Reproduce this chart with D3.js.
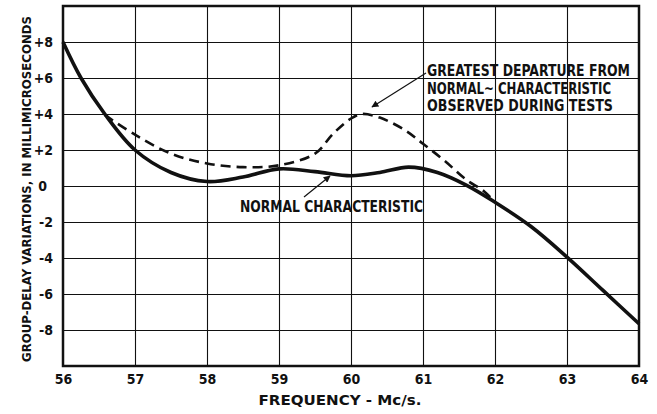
<!DOCTYPE html>
<html>
<head>
<meta charset="utf-8">
<script src="https://cdn.jsdelivr.net/npm/d3@7"></script>
<style>
  html, body { margin: 0; padding: 0; background: #fff; }
  svg { display: block; }
  text { font-family: "DejaVu Sans Condensed", "DejaVu Sans", sans-serif; font-weight: bold; fill: #111; }
</style>
</head>
<body>
<svg id="chart" width="657" height="414"></svg>
<script>
// Frequency axis (Mc/s) and delay axis (millimicroseconds)
const freqTicks = [56, 57, 58, 59, 60, 61, 62, 63, 64];
const delayTicks = [-8, -6, -4, -2, 0, 2, 4, 6, 8];
const delayTickLabels = ["-8", "-6", "-4", "-2", "0", "+2", "+4", "+6", "+8"];

// Normal group-delay characteristic
const normalFreq  = [56.0, 56.25, 56.58, 57.0, 57.5, 58.0, 58.5, 59.0, 59.5, 60.0, 60.4, 60.8, 61.2, 61.6, 62.0, 62.5, 63.0, 63.5, 64.0];
const normalDelay = [8.0,  6.0,   4.0,   2.0,  0.75, 0.25, 0.5,  0.95, 0.8,  0.57, 0.75, 1.05, 0.75, 0.05, -0.9, -2.25, -3.95, -5.8, -7.65];

// Greatest departure observed during tests
const departFreq  = [56.58, 57.0, 57.5, 58.0, 58.5, 59.0, 59.5, 59.75, 60.0, 60.15, 60.4, 60.75, 61.0, 61.3, 61.6, 61.85, 62.0];
const departDelay = [3.95,  2.85, 1.8,  1.25, 1.05, 1.15, 1.8,  2.9,   3.75, 4.0,   3.8,  3.1,   2.35, 1.4,  0.35, -0.3,  -0.9];

const svg = d3.select("#chart");
const x = d3.scaleLinear().domain([56, 64]).range([63, 639]);
const y = d3.scaleLinear().domain([-10, 10]).range([366, 6]);

// arrowhead marker
svg.append("defs").append("marker")
  .attr("id", "arrow")
  .attr("viewBox", "0 0 10 10")
  .attr("refX", 9).attr("refY", 5)
  .attr("markerWidth", 9).attr("markerHeight", 7)
  .attr("markerUnits", "userSpaceOnUse")
  .attr("orient", "auto")
  .append("path").attr("d", "M0,0 L10,5 L0,10 Z").attr("fill", "#111");

// grid
const grid = svg.append("g");
grid.append("g")
  .attr("transform", `translate(0,${y(-10)})`)
  .call(d3.axisBottom(x).tickValues(freqTicks.slice(1, -1)).tickSize(-(y(-10) - y(10))).tickFormat(""))
  .call(g => g.select(".domain").remove())
  .call(g => g.selectAll("line").attr("stroke", "#111").attr("stroke-width", 1.1));
grid.append("g")
  .attr("transform", `translate(${x(56)},0)`)
  .call(d3.axisLeft(y).tickValues(delayTicks).tickSize(-(x(64) - x(56))).tickFormat(""))
  .call(g => g.select(".domain").remove())
  .call(g => g.selectAll("line").attr("stroke", "#111").attr("stroke-width", 1.1));

// frame
svg.append("rect")
  .attr("x", x(56)).attr("y", y(10))
  .attr("width", x(64) - x(56)).attr("height", y(-10) - y(10))
  .attr("fill", "none").attr("stroke", "#111").attr("stroke-width", 2.5);

// tick labels
svg.append("g")
  .attr("transform", `translate(0,${y(-10)})`)
  .call(d3.axisBottom(x).tickValues(freqTicks).tickSize(0).tickPadding(8).tickFormat(d3.format("d")))
  .call(g => g.select(".domain").remove())
  .call(g => g.selectAll("text").style("font-size", "14px").attr("font-family", null));

svg.append("g")
  .attr("transform", `translate(${x(56)},0)`)
  .call(d3.axisLeft(y).tickValues(delayTicks).tickSize(0).tickPadding(10)
        .tickFormat((d, i) => delayTickLabels[i]))
  .call(g => g.select(".domain").remove())
  .call(g => g.selectAll("text").style("font-size", "14px").attr("font-family", null)
        .attr("dx", d => d === 0 ? -6 : 0));

// axis titles
svg.append("text")
  .attr("x", 340).attr("y", 405)
  .attr("text-anchor", "middle")
  .attr("textLength", 163).attr("lengthAdjust", "spacingAndGlyphs")
  .style("font-size", "14px")
  .text("FREQUENCY  -  Mc/s.");

svg.append("text")
  .attr("transform", "translate(31,189) rotate(-90)")
  .attr("text-anchor", "middle")
  .attr("textLength", 346).attr("lengthAdjust", "spacingAndGlyphs")
  .style("font-size", "13px")
  .text("GROUP-DELAY VARIATIONS, IN MILLIMICROSECONDS");

// curves
const line = d3.line().curve(d3.curveCatmullRom.alpha(0.5))
  .x(d => x(d[0])).y(d => y(d[1]));

svg.append("path")
  .datum(departFreq.map((f, i) => [f, departDelay[i]]))
  .attr("d", line)
  .attr("fill", "none").attr("stroke", "#111").attr("stroke-width", 2.6)
  .attr("stroke-dasharray", "10,6");

svg.append("path")
  .datum(normalFreq.map((f, i) => [f, normalDelay[i]]))
  .attr("d", line)
  .attr("fill", "none").attr("stroke", "#111").attr("stroke-width", 3.6);

// annotations
const note = svg.append("g").style("font-size", "15px");
[["GREATEST  DEPARTURE  FROM", 203, 76],
 ["NORMAL~ CHARACTERISTIC", 184, 94],
 ["OBSERVED  DURING  TESTS", 186, 111]].forEach(([t, w, yy]) => {
  note.append("text").attr("x", 427).attr("y", yy)
    .attr("textLength", w).attr("lengthAdjust", "spacingAndGlyphs").text(t);
});
svg.append("line")
  .attr("x1", 426).attr("y1", 73).attr("x2", 372).attr("y2", 107)
  .attr("stroke", "#111").attr("stroke-width", 1.2).attr("marker-end", "url(#arrow)");

svg.append("text")
  .attr("x", 240).attr("y", 212)
  .attr("textLength", 183).attr("lengthAdjust", "spacingAndGlyphs")
  .style("font-size", "15px")
  .text("NORMAL  CHARACTERISTIC");
svg.append("line")
  .attr("x1", 304).attr("y1", 197).attr("x2", 330).attr("y2", 176)
  .attr("stroke", "#111").attr("stroke-width", 1.2).attr("marker-end", "url(#arrow)");
</script>
</body>
</html>
